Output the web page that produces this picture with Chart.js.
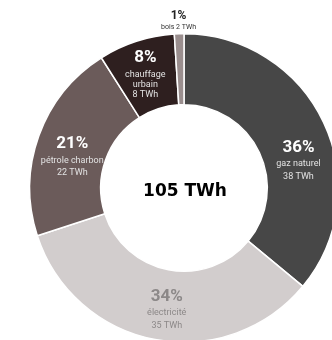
<!DOCTYPE html>
<html>
<head>
<meta charset="utf-8">
<script src="https://cdn.jsdelivr.net/npm/chart.js@4.4.1/dist/chart.umd.min.js"></script>
<style>
  html, body { margin: 0; padding: 0; background: #fff; overflow: hidden; width: 332px; height: 340px; }
  #wrap { position: absolute; left: 0; top: 0; width: 368px; height: 376px; }
</style>
</head>
<body>
<div id="wrap"><canvas id="energyChart"></canvas></div>
<script>
const sources = ["gaz naturel", "électricité", "pétrole charbon", "chauffage urbain", "bois"];
const percents = [36, 34, 21, 8, 1];
const twh = [38, 35, 22, 8, 2];
const total = "105 TWh";
const colors = ["#474747", "#d2cdcd", "#6b5b5a", "#2e1f1f", "#9a8e8e"];

// style des étiquettes : couleur du %, de la légende, petit décalage
const labelStyle = [
  { pct: "#ffffff", sub: "#e2e2e2", dx: 7, dy: 10, gap: 13, lines: ["gaz naturel"] },
  { pct: "#8c8888", sub: "#8c8888", dx: 5, dy: -8, gap: 13, lines: ["électricité"] },
  { pct: "#ffffff", sub: "#e2e2e2", dx: 0, dy: -4, gap: 12, lines: ["pétrole charbon"] },
  { pct: "#ffffff", sub: "#e2e2e2", dx: -2, dy: -17, gap: 10, lines: ["chauffage", "urbain"] },
  { pct: "#222222", sub: "#333333", outside: true, lines: [] }
];

const sliceLabels = {
  id: "sliceLabels",
  afterDatasetsDraw(chart) {
    const ctx = chart.ctx;
    const arcs = chart.getDatasetMeta(0).data;
    ctx.save();
    ctx.textAlign = "center";
    ctx.textBaseline = "middle";
    arcs.forEach((arc, i) => {
      const p = arc.getProps(["x", "y", "startAngle", "endAngle", "innerRadius", "outerRadius"], true);
      const mid = (p.startAngle + p.endAngle) / 2;
      const st = labelStyle[i];
      if (st.outside) {
        const r = p.outerRadius + 18;
        const x = p.x + Math.cos(mid) * r;
        const y = p.y + Math.sin(mid) * r;
        ctx.fillStyle = st.pct;
        ctx.font = "bold 12px Roboto";
        ctx.fillText(percents[i] + "%", x, y);
        ctx.fillStyle = st.sub;
        ctx.font = "7px Roboto";
        ctx.fillText(sources[i] + " " + twh[i] + " TWh", x, y + 11);
        return;
      }
      const r = (p.innerRadius + p.outerRadius) / 2;
      const lines = st.lines.concat([twh[i] + " TWh"]);
      const x = p.x + Math.cos(mid) * r + st.dx;
      let y = p.y + Math.sin(mid) * r + st.dy;
      ctx.fillStyle = st.pct;
      ctx.font = "bold 17px Roboto";
      ctx.fillText(percents[i] + "%", x, y);
      y += 16.5;
      ctx.fillStyle = st.sub;
      ctx.font = "9px Roboto";
      lines.forEach((t) => {
        ctx.fillText(t, x, y);
        y += st.gap;
      });
    });
    // total au centre
    const a = arcs[0];
    ctx.fillStyle = "#000";
    ctx.font = "bold 17px 'DejaVu Sans'";
    ctx.fillText(total, a.x + 1, a.y + 4);
    ctx.restore();
  }
};

new Chart(document.getElementById("energyChart"), {
  type: "doughnut",
  data: {
    labels: sources,
    datasets: [{
      data: percents,
      backgroundColor: colors,
      borderColor: "#ffffff",
      borderWidth: 1.5
    }]
  },
  options: {
    responsive: true,
    maintainAspectRatio: false,
    animation: false,
    cutout: "54%",
    layout: { padding: { left: 29, right: 29, top: 33, bottom: 33 } },
    plugins: {
      legend: { display: false },
      tooltip: { enabled: false }
    }
  },
  plugins: [sliceLabels]
});
</script>
</body>
</html>
